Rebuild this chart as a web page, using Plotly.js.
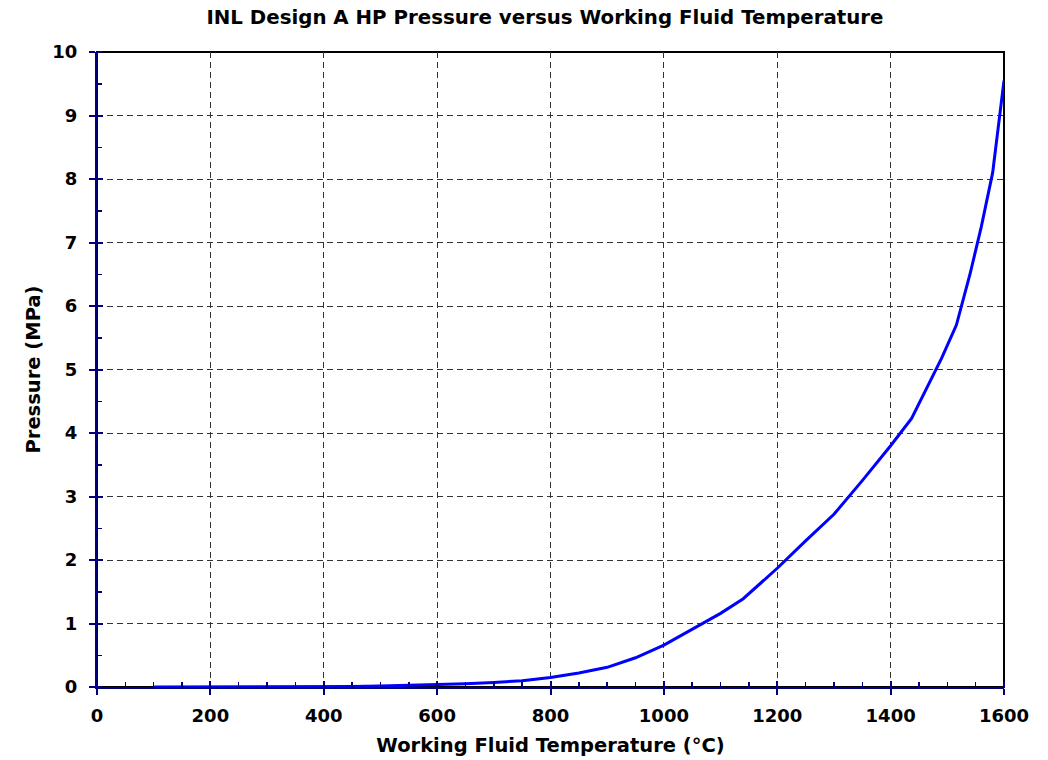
<!DOCTYPE html>
<html>
<head>
<meta charset="utf-8">
<script src="https://cdn.plot.ly/plotly-3.0.1.min.js"></script>
<style>html,body{margin:0;padding:0;background:#fff;}#chart{width:1048px;height:760px;}</style>
</head>
<body>
<div id="chart"></div>
<script>
const chartTitle = "INL Design A HP Pressure versus Working Fluid Temperature";
const xTitle = "Working Fluid Temperature (°C)";
const yTitle = "Pressure (MPa)";
const temperatureC = [100, 200, 300, 400, 450, 500, 550, 600, 650, 700, 750, 800, 850, 900, 950, 1000, 1040, 1100, 1140, 1200, 1250, 1300, 1350, 1400, 1437, 1490, 1516, 1540, 1560, 1580, 1600];
const pressureMPa = [0, 0, 0, 0.003, 0.008, 0.015, 0.025, 0.038, 0.05, 0.07, 0.1, 0.15, 0.22, 0.31, 0.46, 0.66, 0.86, 1.16, 1.39, 1.87, 2.3, 2.72, 3.25, 3.8, 4.23, 5.18, 5.7, 6.5, 7.25, 8.1, 9.55];

const NAVY = "#000080";
const FONT = "DejaVu Sans, Verdana, sans-serif";
const tickFont = {family: FONT, size: 18, color: "#000", weight: "bold"};
const axTitleFont = {family: FONT, size: 19.5, color: "#000", weight: "bold"};

const traces = [
  {x: temperatureC, y: pressureMPa, type: "scatter", mode: "lines",
   line: {color: "#0000FF", width: 3}, hoverinfo: "x+y", showlegend: false},
  {x: [], y: [], type: "scatter", mode: "lines", xaxis: "x2", yaxis: "y2", showlegend: false, hoverinfo: "skip"}
];

const layout = {
  width: 1048, height: 760,
  paper_bgcolor: "#fff", plot_bgcolor: "#fff",
  margin: {l: 97, r: 44, t: 52, b: 73},
  showlegend: false,
  title: {text: chartTitle, x: 0.52, xref: "container", xanchor: "center", y: 0.977, yref: "container", yanchor: "middle",
          font: {family: FONT, size: 19.8, color: "#000", weight: "bold"}},
  xaxis: {
    range: [0, 1600], dtick: 200, tick0: 0, autorange: false,
    showline: true, linecolor: NAVY, linewidth: 2,
    ticks: "outside", ticklen: 6, tickwidth: 2, tickcolor: NAVY,
    minor: {ticks: "inside", dtick: 50, ticklen: 5, tickwidth: 1.5, tickcolor: NAVY, showgrid: false},
    showgrid: true, gridcolor: "#333", gridwidth: 1, griddash: "6px,4px",
    zeroline: false, tickfont: tickFont, ticklabelstandoff: 5,
    title: {text: xTitle, font: axTitleFont, standoff: 14}
  },
  xaxis2: {
    overlaying: "x", anchor: "y2", side: "bottom", range: [0, 1600], dtick: 200, tick0: 0,
    ticks: "inside", ticklen: 6, tickwidth: 2, tickcolor: NAVY,
    showticklabels: false, showgrid: false, zeroline: false, showline: false
  },
  yaxis: {
    range: [0, 10], dtick: 1, tick0: 0, autorange: false,
    showline: true, linecolor: NAVY, linewidth: 2,
    ticks: "outside", ticklen: 6, tickwidth: 2, tickcolor: NAVY,
    minor: {ticks: "inside", dtick: 0.5, ticklen: 5, tickwidth: 1.5, tickcolor: NAVY, showgrid: false},
    showgrid: true, gridcolor: "#333", gridwidth: 1, griddash: "6px,4px",
    zeroline: false, tickfont: tickFont, ticklabelstandoff: 8,
    title: {text: yTitle, font: axTitleFont, standoff: 7}
  },
  yaxis2: {
    overlaying: "y", anchor: "x2", side: "left", range: [0, 10], dtick: 1, tick0: 0,
    ticks: "inside", ticklen: 6, tickwidth: 2, tickcolor: NAVY,
    showticklabels: false, showgrid: false, zeroline: false, showline: false
  },
  shapes: [
    {type: "rect", xref: "paper", yref: "paper", x0: 0, x1: 1, y0: 0, y1: 1,
     line: {color: "#000", width: 2}, layer: "below"}
  ]
};

Plotly.newPlot("chart", traces, layout, {displayModeBar: false, staticPlot: true});
</script>
</body>
</html>
